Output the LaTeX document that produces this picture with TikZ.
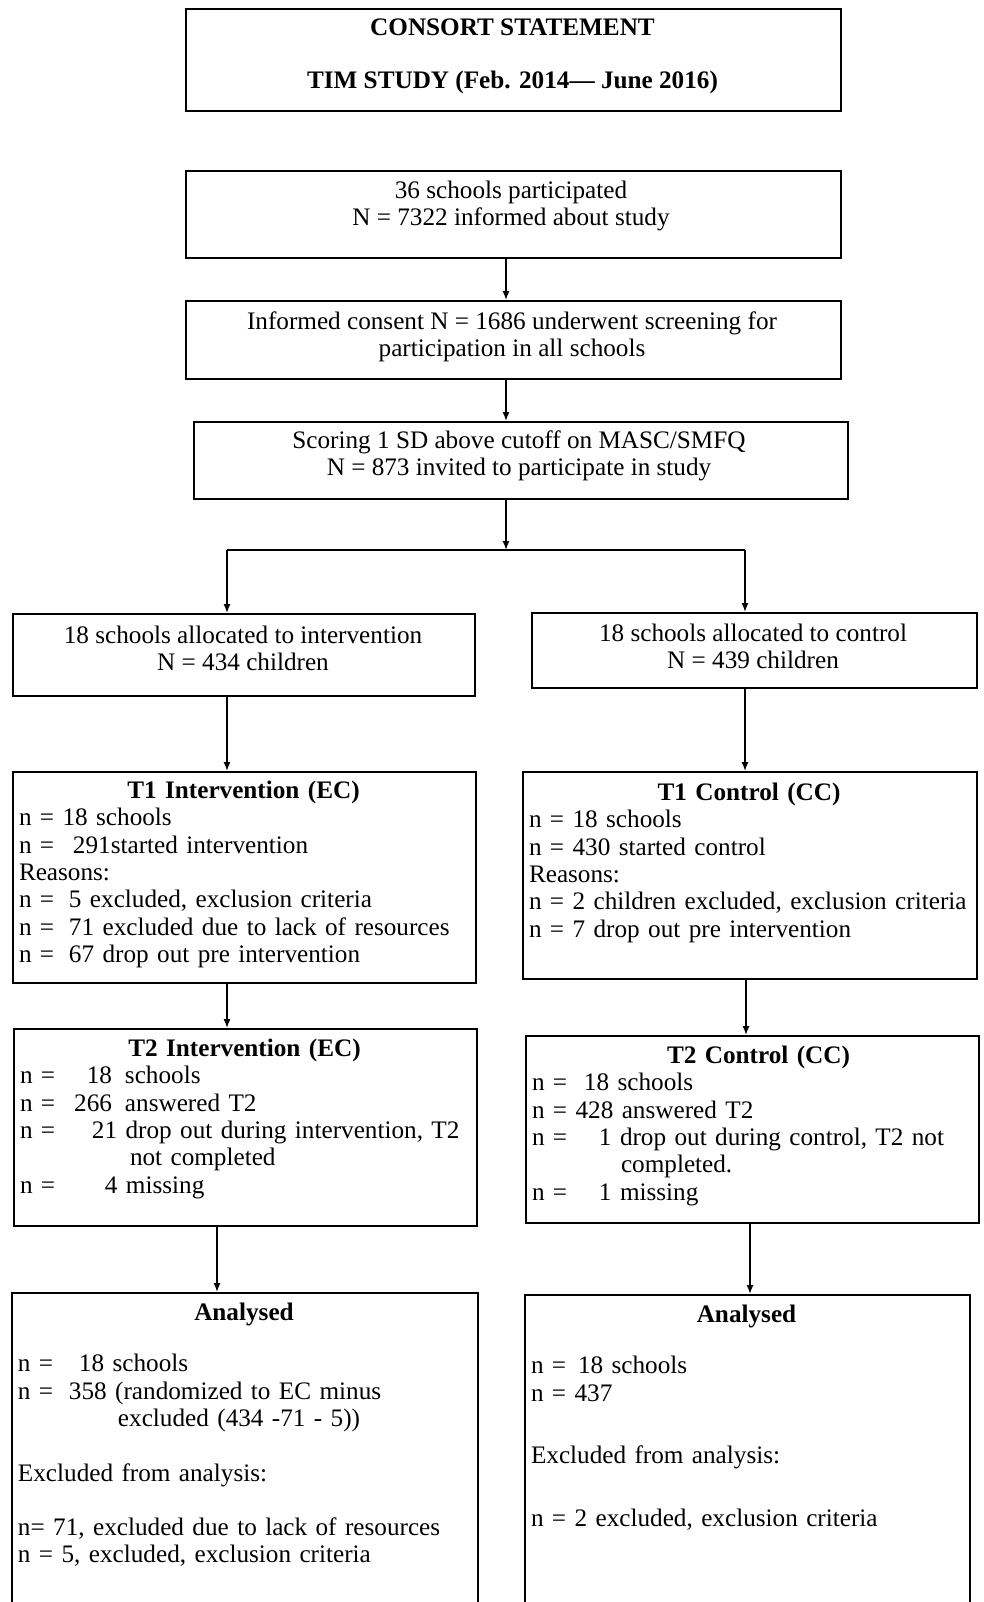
\documentclass[tikz,border=0pt]{standalone}
\usepackage{fontspec}
\setmainfont{Liberation Serif}
\usetikzlibrary{arrows.meta}

\tikzset{
	box/.style={draw, line width=1.1pt, anchor=north west, inner sep=0pt},
	txt/.style={anchor=north, inner sep=0pt, font={\fontsize{12.6}{13.65}\selectfont}},
	arr/.style={-{Latex[length=4.5pt,width=3.5pt]}, line width=0.7pt},
}
\newcommand{\nat}[1]{\makebox[#1pt][l]{n =}}
\newcommand{\head}[1]{\makebox[\linewidth]{\bfseries #1}}

\begin{document}
\begin{tikzpicture}[x=0.5pt, y=-0.5pt]
	\clip (0,0) rectangle (984,1602);
	\fill[white] (0,0) rectangle (984,1602);

	% boxes
	\node[box, minimum width=327.5pt, minimum height=51pt] (title) at (185,8) {};
	\node[box, minimum width=327.5pt, minimum height=43.5pt] (inform) at (185,170) {};
	\node[box, minimum width=327.5pt, minimum height=39pt] (consent) at (185,300) {};
	\node[box, minimum width=327pt, minimum height=38.5pt] (screen) at (193,421) {};
	\node[box, minimum width=231pt, minimum height=41pt] (allocI) at (12,613) {};
	\node[box, minimum width=222.5pt, minimum height=37.5pt] (allocC) at (531,612) {};
	\node[box, minimum width=231.5pt, minimum height=105.5pt] (t1int) at (12,771) {};
	\node[box, minimum width=227pt, minimum height=103.5pt] (t1ctrl) at (522,771) {};
	\node[box, minimum width=231.5pt, minimum height=98.5pt] (t2int) at (13,1028) {};
	\node[box, minimum width=226.5pt, minimum height=93.5pt] (t2ctrl) at (525,1035) {};
	\node[box, minimum width=233pt, minimum height=160pt] (anaI) at (11,1292) {};
	\node[box, minimum width=222.5pt, minimum height=159pt] (anaC) at (524,1294) {};

	% texts
	\node[txt, align=center, font={\fontsize{12.6}{13.65}\selectfont\bfseries}] (titleT) at (512.5,16)
		{\strut CONSORT STATEMENT\\[13pt] TIM STUDY (Feb. 2014— June 2016)};
	\node[txt, align=center] (informT) at (511,179)
		{\strut 36 schools participated\\ N = 7322 informed about study};
	\node[txt, align=center] (consentT) at (512,310)
		{\strut Informed consent N = 1686 underwent screening for\\ participation in all schools};
	\node[txt, align=center] (screenT) at (519,429)
		{\strut Scoring 1 SD above cutoff on MASC/SMFQ\\ N = 873 invited to participate in study};
	\node[txt, align=center] (allocIT) at (243,624)
		{\strut 18 schools allocated to intervention\\ N = 434 children};
	\node[txt, align=center] (allocCT) at (753,622)
		{\strut 18 schools allocated to control\\ N = 439 children};

	\node[txt, align=left, text width=224.5pt] (t1intT) at (243.5,779)
		{\strut\head{T1 Intervention (EC)}\\
		n = 18 schools\\
		\nat{27}291started intervention\\
		Reasons:\\
		\nat{25}\makebox[10.5pt][l]{5}excluded, exclusion criteria\\
		\nat{25}71 excluded due to lack of resources\\
		\nat{25}67 drop out pre intervention};
	\node[txt, align=left, text width=220pt] (t1ctrlT) at (749,781)
		{\strut\head{T1 Control (CC)}\\
		n = 18 schools\\
		n = 430 started control\\
		Reasons:\\
		n = 2 children excluded, exclusion criteria\\
		n = 7 drop out pre intervention};
	\node[txt, align=left, text width=224.5pt] (t2intT) at (244.5,1037)
		{\strut\head{T2 Intervention (EC)}\\
		\nat{27}\makebox[19pt][r]{18}\hspace{6.5pt}schools\\
		\nat{27}\makebox[19pt][r]{266}\hspace{6.5pt}answered T2\\
		\nat{36}21 drop out during intervention, T2\\
		\hspace*{55pt}not completed\\
		\nat{42.5}4 missing};
	\node[txt, align=left, text width=219.5pt] (t2ctrlT) at (751.5,1044)
		{\strut\head{\hspace{7pt}T2 Control (CC)}\\
		\nat{26}18 schools\\
		n = 428 answered T2\\
		\nat{33.5}1 drop out during control, T2 not\\
		\hspace*{44.5pt}completed.\\
		\nat{33.5}1 missing};
	\node[txt, align=left, text width=226pt] (anaIT) at (244,1301)
		{\strut\head{Analysed}\\[12pt]
		\nat{30.5}18 schools\\
		\nat{25.5}358 (randomized to EC minus\\
		\hspace*{50pt}excluded (434 -71 - 5))\\[13.65pt]
		Excluded from analysis:\\[13.65pt]
		n= 71, excluded due to lack of resources\\
		n = 5, excluded, exclusion criteria};
	\node[txt, align=left, text width=215.5pt] (anaCT) at (746.5,1303)
		{\strut\head{Analysed}\\[12pt]
		\nat{23.5}18 schools\\
		n = 437\\[17.5pt]
		Excluded from analysis:\\[18pt]
		n = 2 excluded, exclusion criteria};

	% connectors
	\coordinate (spine) at (506,550);
	\coordinate (splitL) at (227,550);
	\coordinate (splitR) at (745,550);
	\draw[arr] (inform.south -| spine) -- (consent.north -| spine);
	\draw[arr] (consent.south -| spine) -- (screen.north -| spine);
	\draw[arr] (screen.south -| spine) -- (spine);
	\draw[line width=0.9pt] (splitL) -- (splitR);
	\draw[arr] (splitL) -- (allocI.north -| splitL);
	\draw[arr] (splitR) -- (allocC.north -| splitR);
	\draw[arr] (allocI.south -| splitL) -- (t1int.north -| splitL);
	\draw[arr] (allocC.south -| splitR) -- (t1ctrl.north -| splitR);
	\draw[arr] (t1int.south -| splitL) -- (t2int.north -| splitL);
	\draw[arr] ([xshift=0.5pt]t1ctrl.south -| splitR) -- ([xshift=0.5pt]t2ctrl.north -| splitR);
	\draw[arr] ([xshift=-5pt]t2int.south -| splitL) -- ([xshift=-5pt]anaI.north -| splitL);
	\draw[arr] ([xshift=2.5pt]t2ctrl.south -| splitR) -- ([xshift=2.5pt]anaC.north -| splitR);
\end{tikzpicture}
\end{document}
